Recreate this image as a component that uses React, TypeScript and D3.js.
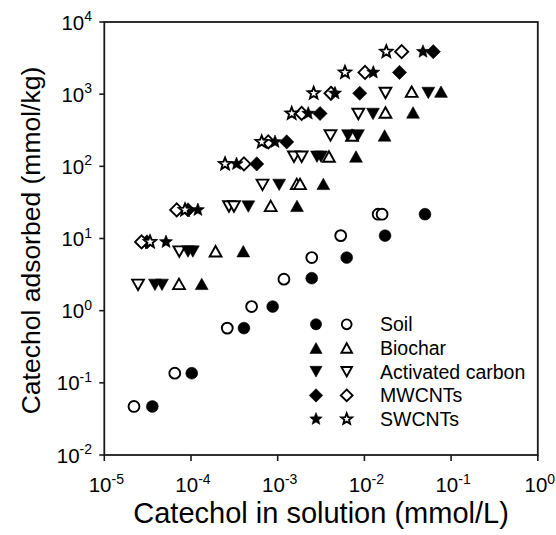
import React from "react";
import * as d3 from "d3";

const FONT = "'Liberation Sans', Arial, Helvetica, sans-serif";

// ---------- data ----------
const xTickExps = [-5, -4, -3, -2, -1, 0];
const yTickExps = [-2, -1, 0, 1, 2, 3, 4];

const soilFilledX = [3.58e-5, 1.02e-4, 4.08e-4, 8.75e-4, 2.47e-3, 6.25e-3, 0.0173, 0.05];
const soilFilledY = [0.047, 0.136, 0.573, 1.14, 2.82, 5.44, 10.96, 21.7];
const soilOpenX = [2.2e-5, 6.5e-5, 2.62e-4, 5.0e-4, 1.18e-3, 2.47e-3, 5.33e-3, 0.0144, 0.016];
const soilOpenY = [0.047, 0.136, 0.573, 1.14, 2.73, 5.44, 10.96, 21.7, 21.7];

const biocharFilledX = [1.33e-4, 4.01e-4, 1.67e-3, 3.36e-3, 8.0e-3, 0.0171, 0.0364, 0.0765];
const biocharFilledY = [2.35, 6.67, 28.3, 57.1, 137, 268, 558, 1083];
const biocharOpenX = [7.27e-5, 1.92e-4, 8.3e-4, 1.66e-3, 1.81e-3, 3.9e-3, 7.2e-3, 0.0175, 0.0351];
const biocharOpenY = [2.35, 6.67, 28.3, 57.1, 57.1, 137, 268, 558, 1083];

const acFilledX = [3.84e-5, 4.63e-5, 9.23e-5, 1.05e-4, 4.58e-4, 1.04e-3, 2.84e-3, 3.16e-3, 6.47e-3, 8.43e-3, 0.01256, 0.0546];
const acFilledY = [2.28, 2.28, 6.59, 6.59, 27.7, 55.3, 136, 136, 268, 268, 532, 1039];
const acOpenX = [2.45e-5, 7.33e-5, 2.74e-4, 3.13e-4, 6.68e-4, 1.54e-3, 1.89e-3, 4.06e-3, 8.51e-3, 0.0175];
const acOpenY = [2.28, 6.59, 27.7, 27.7, 55.3, 136, 136, 268, 532, 1039];

const mwFilledX = [3.11e-5, 9.23e-5, 5.73e-4, 1.27e-3, 3.08e-3, 8.83e-3, 0.0254, 0.0623];
const mwOpenX = [2.69e-5, 6.84e-5, 4.08e-4, 7.79e-4, 1.89e-3, 4.12e-3, 0.01017, 0.0269];
const mwY = [8.97, 24.9, 108, 218, 540, 1029, 2000, 3878];

const swFilledX = [5.15e-5, 1.2e-4, 3.35e-4, 9.31e-4, 2.25e-3, 4.58e-3, 0.01267, 0.0474];
const swOpenX = [3.37e-5, 8.53e-5, 2.47e-4, 6.54e-4, 1.45e-3, 2.6e-3, 5.97e-3, 0.0179];
const swY = [8.97, 24.9, 108, 218, 540, 1029, 2000, 3878];

const legendLabels = ["Soil", "Biochar", "Activated carbon", "MWCNTs", "SWCNTs"];

// ---------- layout ----------
const W = 556;
const H = 535;
const L = 104.3, R = 537.8, T = 22, B = 455;

const x = d3.scaleLog().domain([1e-5, 1]).range([L, R]);
const y = d3.scaleLog().domain([1e-2, 1e4]).range([B, T]);

type Shape = "circle" | "up" | "down" | "diamond" | "star";

function shapePath(shape: Shape): string {
  switch (shape) {
    case "circle": {
      const p = d3.path();
      p.arc(0, 0, 5.9, 0, Math.PI * 2);
      return p.toString();
    }
    case "up": {
      const w = 6.4, h = 5.7;
      return `M0,${-h}L${w},${h}L${-w},${h}Z`;
    }
    case "down": {
      const w = 6.4, h = 5.7;
      return `M0,${h}L${w},${-h}L${-w},${-h}Z`;
    }
    case "diamond": {
      const a = 7.1;
      return `M0,${-a}L${a},0L0,${a}L${-a},0Z`;
    }
    case "star": {
      const Ro = 6.9, Ri = 3.0;
      const pts: string[] = [];
      for (let i = 0; i < 10; i++) {
        const r = i % 2 === 0 ? Ro : Ri;
        const ang = -Math.PI / 2 + (i * Math.PI) / 5;
        pts.push(`${(r * Math.cos(ang)).toFixed(2)},${(r * Math.sin(ang)).toFixed(2)}`);
      }
      return "M" + pts.join("L") + "Z";
    }
  }
}

function Marker({ cx, cy, shape, filled, scale = 1 }: { cx: number; cy: number; shape: Shape; filled: boolean; scale?: number }) {
  const s = filled ? scale : scale * 0.92;
  return (
    <path
      d={shapePath(shape)}
      transform={`translate(${cx},${cy}) scale(${s})`}
      fill={filled ? "#000" : "#fff"}
      stroke="#000"
      strokeWidth={filled ? 0.6 : 1.9 / s}
      strokeLinejoin="miter"
    />
  );
}

type Series = { xs: number[]; ys: number[]; shape: Shape; filled: boolean };

const series: Series[] = [
  { xs: soilFilledX, ys: soilFilledY, shape: "circle", filled: true },
  { xs: soilOpenX, ys: soilOpenY, shape: "circle", filled: false },
  { xs: biocharOpenX, ys: biocharOpenY, shape: "up", filled: false },
  { xs: biocharFilledX, ys: biocharFilledY, shape: "up", filled: true },
  { xs: acOpenX, ys: acOpenY, shape: "down", filled: false },
  { xs: acFilledX, ys: acFilledY, shape: "down", filled: true },
  { xs: mwFilledX, ys: mwY, shape: "diamond", filled: true },
  { xs: mwOpenX, ys: mwY, shape: "diamond", filled: false },
  { xs: swOpenX, ys: swY, shape: "star", filled: false },
  { xs: swFilledX, ys: swY, shape: "star", filled: true },
];

const legendShapes: Shape[] = ["circle", "up", "down", "diamond", "star"];

function Pow({ px, py, exp, anchor }: { px: number; py: number; exp: number; anchor: "end" | "middle" }) {
  return (
    <text x={px} y={py} textAnchor={anchor} fontFamily={FONT} fontSize={20.5} fill="#000">
      10
      <tspan fontSize={14} dy={-8.5}>{String(exp)}</tspan>
    </text>
  );
}

export default function App() {
  return (
    <svg width={W} height={H} style={{ position: "absolute", left: 0, top: 0, background: "#fff" }}>
      <rect x={0} y={0} width={W} height={H} fill="#fff" />
      {/* frame */}
      <rect x={L} y={T} width={R - L} height={B - T} fill="none" stroke="#1a1a1a" strokeWidth={1.8} />
      {/* x ticks */}
      {xTickExps.map((e) => (
        <g key={"xt" + e}>
          <line x1={x(Math.pow(10, e))} x2={x(Math.pow(10, e))} y1={B} y2={B + 6} stroke="#1a1a1a" strokeWidth={1.6} />
          <Pow px={x(Math.pow(10, e)) + 2} py={492} exp={e} anchor="middle" />
        </g>
      ))}
      {/* y ticks */}
      {yTickExps.map((e) => (
        <g key={"yt" + e}>
          <line x1={L - 5} x2={L} y1={y(Math.pow(10, e))} y2={y(Math.pow(10, e))} stroke="#1a1a1a" strokeWidth={1.6} />
          <Pow px={92} py={y(Math.pow(10, e)) + 7.5} exp={e} anchor="end" />
        </g>
      ))}
      {/* data */}
      {series.map((s, si) =>
        s.xs.map((xv, i) => (
          <Marker key={si + "-" + i} cx={x(xv)} cy={y(s.ys[i])} shape={s.shape} filled={s.filled} />
        ))
      )}
      {/* legend */}
      {legendLabels.map((lab, i) => {
        const ly = 324.3 + i * 23.7;
        return (
          <g key={"lg" + i}>
            <Marker cx={316} cy={ly} shape={legendShapes[i]} filled={true} scale={0.95} />
            <Marker cx={346.7} cy={ly} shape={legendShapes[i]} filled={false} scale={0.9} />
            <text x={380} y={ly + 7} fontFamily={FONT} fontSize={19.5} fill="#000">
              {lab}
            </text>
          </g>
        );
      })}
      {/* axis titles */}
      <text x={(L + R) / 2} y={523} textAnchor="middle" fontFamily={FONT} fontSize={29} fill="#000">
        Catechol in solution (mmol/L)
      </text>
      <text
        transform={`translate(40,${(T + B) / 2 + 2}) rotate(-90)`}
        textAnchor="middle"
        fontFamily={FONT}
        fontSize={26.5}
        fill="#000"
      >
        Catechol adsorbed (mmol/kg)
      </text>
    </svg>
  );
}
